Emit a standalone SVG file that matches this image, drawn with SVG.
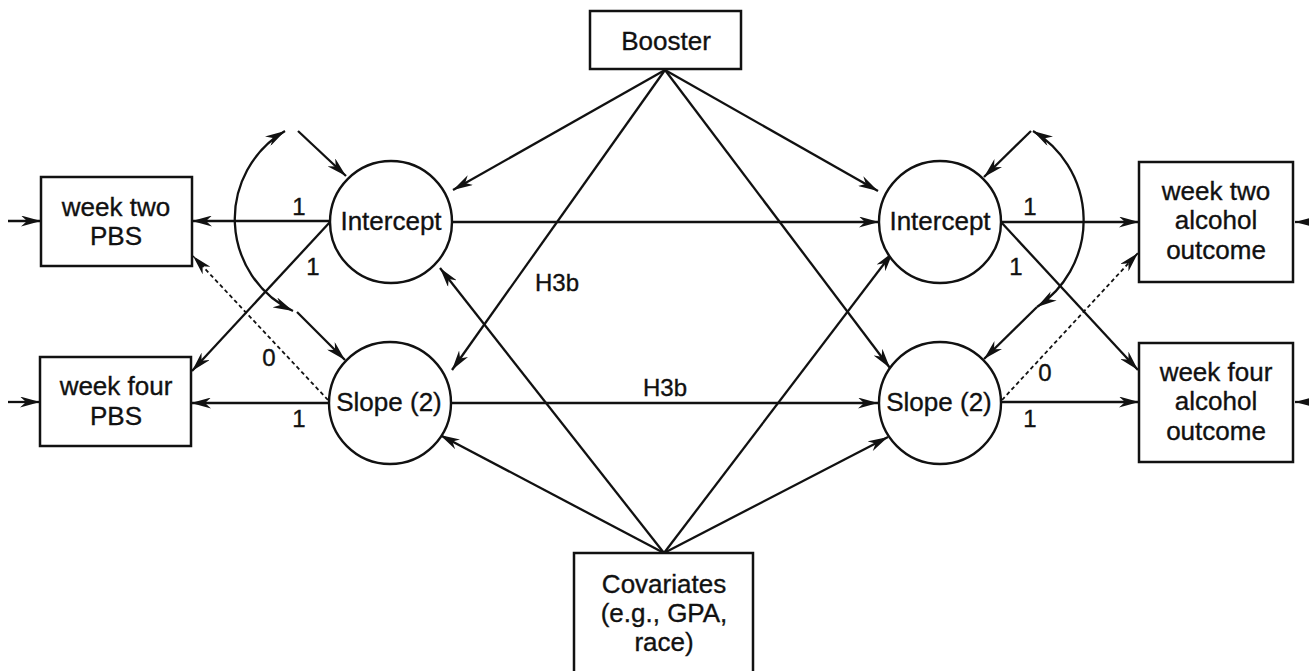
<svg xmlns="http://www.w3.org/2000/svg" width="1309" height="671" viewBox="0 0 1309 671">
<defs>
<style>
.box{fill:#fff;stroke:#111;stroke-width:2.5}
.lat{fill:#fff;stroke:#111;stroke-width:2.4}
.t{font-family:"Liberation Sans",Arial,sans-serif;font-size:26px;fill:#111;stroke:#111;stroke-width:0.35;text-anchor:middle}
.n{font-family:"Liberation Sans",Arial,sans-serif;font-size:24px;fill:#111;stroke:#111;stroke-width:0.35;text-anchor:middle}
.h{font-family:"Liberation Sans",Arial,sans-serif;font-size:24px;fill:#111;stroke:#111;stroke-width:0.35;text-anchor:middle}
.c{fill:none;stroke:#111;stroke-width:2.3;marker-end:url(#ah)}
.d{fill:none;stroke:#111;stroke-width:1.8;stroke-dasharray:4 3;marker-end:url(#ah)}
.cv{fill:none;stroke:#111;stroke-width:2.3;marker-start:url(#ah);marker-end:url(#ah)}
</style>
<marker id="ah" markerUnits="userSpaceOnUse" markerWidth="20" markerHeight="11" refX="20" refY="5.5" orient="auto-start-reverse" viewBox="0 0 20 11">
<path d="M0,0 L20,5.5 L0,11 L6,5.5 z" fill="#111"/>
</marker>
</defs>
<rect width="1309" height="671" fill="#fff"/>

<g id="connectors">
<!-- left side -->
<line class="c" x1="8" y1="221" x2="41" y2="221"/>
<line class="c" x1="8" y1="402" x2="40" y2="402"/>
<line class="c" x1="330" y1="221" x2="192" y2="221"/>
<line class="c" x1="330" y1="222" x2="192" y2="371"/>
<line class="c" x1="328" y1="403" x2="191" y2="403"/>
<line class="d" x1="328" y1="400" x2="193" y2="256"/>
<line class="c" x1="298" y1="131" x2="346" y2="176"/>
<line class="c" x1="297" y1="312" x2="345" y2="360"/>
<path class="cv" d="M293,311 A102,102 0 0 1 285,131"/>
<!-- right side -->
<line class="c" x1="1315" y1="222" x2="1295" y2="222"/>
<line class="c" x1="1315" y1="402" x2="1295" y2="402"/>
<line class="c" x1="1001" y1="222" x2="1139" y2="222"/>
<line class="c" x1="1001" y1="222" x2="1138" y2="370"/>
<line class="c" x1="1002" y1="402" x2="1139" y2="402"/>
<line class="d" x1="1002" y1="400" x2="1138" y2="253"/>
<line class="c" x1="1031" y1="131" x2="984" y2="177"/>
<line class="c" x1="1037" y1="307" x2="984" y2="359"/>
<path class="cv" d="M1033,131 A104,104 0 0 1 1037,307"/>
<!-- middle -->
<line class="c" x1="453" y1="222" x2="879" y2="222"/>
<line class="c" x1="452" y1="403" x2="878" y2="403"/>
<line class="c" x1="665" y1="70" x2="453" y2="190"/>
<line class="c" x1="665" y1="70" x2="452" y2="370"/>
<line class="c" x1="665" y1="70" x2="878" y2="191"/>
<line class="c" x1="665" y1="70" x2="890" y2="368"/>
<line class="c" x1="664" y1="553" x2="440" y2="268"/>
<line class="c" x1="664" y1="553" x2="440" y2="435"/>
<line class="c" x1="664" y1="553" x2="893" y2="252"/>
<line class="c" x1="664" y1="553" x2="888" y2="437"/>
<!-- labels -->
<text class="n" x="299" y="215">1</text>
<text class="n" x="313" y="275">1</text>
<text class="n" x="269" y="366">0</text>
<text class="n" x="299" y="427">1</text>
<text class="n" x="1030" y="215">1</text>
<text class="n" x="1016" y="275">1</text>
<text class="n" x="1045" y="381">0</text>
<text class="n" x="1030" y="427">1</text>
<text class="h" x="557" y="291">H3b</text>
<text class="h" x="665" y="396">H3b</text>
</g>

<g id="booster">
<rect class="box" x="590" y="11" width="151" height="58"/>
<text class="t" x="666" y="50">Booster</text>
</g>

<g id="covariates">
<rect class="box" x="574" y="553" width="179" height="125"/>
<text class="t" x="664" y="593">Covariates</text>
<text class="t" x="664" y="622">(e.g., GPA,</text>
<text class="t" x="664" y="651">race)</text>
</g>

<g id="week2pbs">
<rect class="box" x="41" y="177" width="151" height="89"/>
<text class="t" x="116" y="216">week two</text>
<text class="t" x="116" y="245">PBS</text>
</g>

<g id="week4pbs">
<rect class="box" x="40" y="357" width="151" height="89"/>
<text class="t" x="116" y="395">week four</text>
<text class="t" x="116" y="425">PBS</text>
</g>

<g id="interceptL">
<circle class="lat" cx="391" cy="222" r="61"/>
<text class="t" x="391" y="230">Intercept</text>
</g>

<g id="slopeL">
<circle class="lat" cx="390" cy="403" r="61"/>
<text class="t" x="389" y="411">Slope (2)</text>
</g>

<g id="interceptR">
<circle class="lat" cx="940" cy="222" r="61"/>
<text class="t" x="940" y="230">Intercept</text>
</g>

<g id="slopeR">
<circle class="lat" cx="940" cy="403" r="61"/>
<text class="t" x="939" y="411">Slope (2)</text>
</g>

<g id="week2alc">
<rect class="box" x="1139" y="162" width="154" height="120"/>
<text class="t" x="1216" y="200">week two</text>
<text class="t" x="1216" y="229">alcohol</text>
<text class="t" x="1216" y="259">outcome</text>
</g>

<g id="week4alc">
<rect class="box" x="1139" y="343" width="154" height="119"/>
<text class="t" x="1216" y="381">week four</text>
<text class="t" x="1216" y="410">alcohol</text>
<text class="t" x="1216" y="440">outcome</text>
</g>
</svg>
